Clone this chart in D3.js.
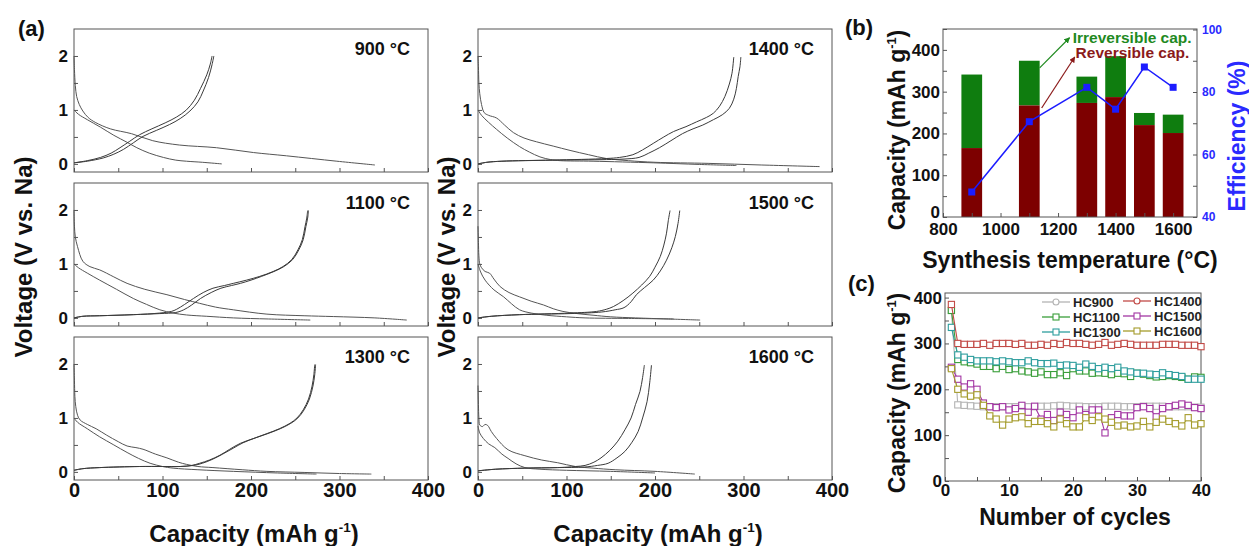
<!DOCTYPE html>
<html>
<head>
<meta charset="utf-8">
<script src="https://cdn.jsdelivr.net/npm/d3@7.9.0/dist/d3.min.js"></script>
<style>
  body { margin: 0; background: #fff; }
  svg text { font-family: Arial, "Liberation Sans", sans-serif; font-weight: bold; }
</style>
</head>
<body>
<svg id="fig" width="1249" height="546"></svg>
<script>
// ---------- data: (a) charge/discharge profiles, [capacity, voltage] ----------
const tempLabels = ["900 °C", "1100 °C", "1300 °C", "1400 °C", "1500 °C", "1600 °C"];

// each panel: [1st discharge, 1st charge, 2nd discharge, 2nd charge]
const curves900 = [
  [[0,2.0],[0.5,1.75],[1.5,1.45],[3,1.25],[6,1.1],[10,0.98],[16,0.86],[24,0.77],[41,0.65],[65,0.56],[89,0.43],[119,0.35],[161,0.3],[203,0.21],[240,0.15],[297,0.05],[340,-0.02]],
  [[0,0.02],[15,0.05],[33,0.11],[45,0.18],[56,0.27],[67,0.39],[78,0.51],[93,0.62],[108,0.73],[120,0.84],[131,0.98],[140,1.15],[146,1.35],[152,1.6],[156,1.84],[158,2.0]],
  [[0,1.0],[5,0.92],[15,0.82],[30,0.68],[45,0.53],[60,0.4],[71,0.3],[85,0.2],[101,0.12],[115,0.07],[127,0.05],[145,0.03],[167,0.0]],
  [[0,0.02],[15,0.06],[30,0.12],[42,0.2],[52,0.3],[63,0.42],[74,0.54],[88,0.65],[103,0.76],[116,0.87],[127,1.0],[136,1.18],[143,1.4],[150,1.65],[154,1.85],[156,2.0]]
];
const curves1100 = [
  [[0,2.0],[0.5,1.7],[1.5,1.5],[4,1.32],[10,1.05],[18,0.95],[29,0.89],[45,0.76],[60,0.64],[80,0.53],[105,0.43],[125,0.34],[142,0.27],[160,0.2],[180,0.15],[218,0.07],[260,0.04],[293,0.025],[340,0.0],[376,-0.04]],
  [[0,0.0],[10,0.03],[29,0.04],[67,0.06],[97,0.09],[110,0.12],[116,0.16],[125,0.25],[135,0.36],[146,0.47],[157,0.55],[170,0.6],[180,0.64],[195,0.7],[210,0.77],[225,0.86],[236,0.95],[246,1.08],[253,1.26],[258,1.45],[261,1.69],[263,1.85],[264,1.99]],
  [[0,1.0],[5,0.93],[15,0.83],[29,0.7],[48,0.53],[67,0.36],[82,0.25],[97,0.15],[112,0.09],[127,0.055],[150,0.03],[180,0.0],[220,-0.02],[267,-0.04]],
  [[0,0.0],[10,0.03],[29,0.04],[67,0.06],[97,0.08],[115,0.1],[124,0.15],[133,0.24],[143,0.36],[155,0.47],[166,0.55],[178,0.6],[188,0.64],[200,0.7],[212,0.77],[226,0.86],[237,0.95],[247,1.08],[254,1.26],[259,1.45],[262,1.69],[264,1.85],[265,1.99]]
];
const curves1300 = [
  [[0,2.0],[0.5,1.7],[1,1.4],[2,1.21],[4,1.05],[7,0.96],[15,0.88],[25,0.8],[37,0.68],[50,0.56],[60,0.48],[70,0.45],[78,0.42],[92,0.33],[105,0.26],[118,0.18],[127,0.14],[140,0.1],[157,0.08],[190,0.04],[218,0.01],[260,-0.01],[300,-0.03],[336,-0.04]],
  [[0,0.03],[10,0.06],[29,0.08],[74,0.1],[100,0.1],[120,0.1],[133,0.12],[142,0.16],[153,0.22],[165,0.31],[176,0.42],[188,0.53],[203,0.62],[218,0.71],[232,0.8],[244,0.9],[252,1.0],[259,1.15],[265,1.35],[269,1.59],[271,1.8],[272,1.99]],
  [[0,1.0],[4,0.92],[15,0.8],[29,0.65],[45,0.5],[60,0.36],[73,0.25],[86,0.16],[100,0.1],[112,0.07],[140,0.04],[180,0.01],[230,-0.02],[274,-0.04]],
  [[0,0.03],[10,0.06],[29,0.08],[74,0.1],[100,0.1],[120,0.1],[135,0.12],[145,0.16],[156,0.23],[168,0.33],[180,0.44],[191,0.54],[205,0.63],[219,0.71],[233,0.8],[245,0.9],[253,1.0],[260,1.15],[266,1.35],[270,1.59],[272,1.8],[273,1.99]]
];
const curves1400 = [
  [[0,2.0],[0.5,1.8],[1,1.5],[2,1.3],[4,1.1],[7,0.95],[12,0.9],[21,0.85],[30,0.72],[40,0.58],[52,0.48],[66,0.41],[85,0.33],[104,0.25],[125,0.17],[145,0.1],[170,0.06],[200,0.03],[260,0.01],[320,-0.02],[386,-0.05]],
  [[0,0.0],[10,0.03],[27,0.05],[84,0.07],[145,0.1],[160,0.12],[175,0.17],[186,0.26],[198,0.38],[210,0.5],[221,0.6],[235,0.69],[247,0.78],[258,0.86],[266,0.94],[273,1.07],[279,1.25],[284,1.48],[287,1.68],[289,1.98]],
  [[0,1.0],[4,0.9],[12,0.77],[21,0.64],[33,0.48],[47,0.32],[58,0.22],[70,0.13],[82,0.08],[93,0.06],[130,0.05],[198,0.02],[250,-0.01],[292,-0.03]],
  [[0,0.0],[10,0.03],[27,0.05],[84,0.07],[145,0.08],[165,0.09],[182,0.12],[193,0.2],[205,0.3],[218,0.43],[231,0.56],[243,0.65],[254,0.72],[266,0.82],[276,0.91],[284,1.03],[289,1.2],[292,1.4],[294,1.62],[296,1.8],[297,1.98]]
];
const curves1500 = [
  [[0,1.7],[0.5,1.4],[1,1.15],[2,1.0],[4,0.93],[8,0.86],[13,0.83],[18,0.72],[25,0.58],[35,0.47],[47,0.39],[60,0.31],[74,0.24],[85,0.17],[96,0.12],[112,0.08],[130,0.05],[150,0.02],[178,0.0],[215,-0.02],[251,-0.04]],
  [[0,0.0],[15,0.03],[47,0.06],[104,0.09],[134,0.12],[145,0.16],[153,0.21],[164,0.32],[175,0.46],[185,0.61],[194,0.77],[200,0.94],[206,1.14],[210,1.35],[213,1.57],[215,1.8],[217,1.99]],
  [[0,1.0],[3,0.85],[8,0.7],[18,0.52],[29,0.39],[38,0.26],[47,0.15],[60,0.09],[77,0.05],[100,0.02],[121,0.0],[170,-0.01],[221,-0.02]],
  [[0,0.0],[15,0.03],[47,0.06],[104,0.08],[140,0.11],[155,0.15],[165,0.19],[173,0.3],[179,0.43],[188,0.56],[198,0.7],[206,0.87],[213,1.07],[219,1.3],[223,1.51],[226,1.75],[228,1.99]]
];
const curves1600 = [
  [[0,1.6],[0.5,1.25],[1,1.0],[2,0.87],[5,0.84],[8,0.88],[11,0.86],[15,0.75],[21,0.62],[34,0.41],[53,0.3],[72,0.22],[90,0.17],[110,0.1],[130,0.07],[155,0.04],[200,0.01],[245,-0.04]],
  [[0,0.02],[20,0.05],[53,0.07],[90,0.08],[110,0.1],[121,0.12],[131,0.18],[139,0.26],[149,0.4],[158,0.57],[166,0.78],[173,1.0],[178,1.25],[183,1.49],[186,1.75],[188,1.98]],
  [[0,0.85],[2,0.72],[6,0.62],[12,0.52],[19,0.45],[27,0.33],[34,0.25],[43,0.15],[53,0.08],[70,0.05],[100,0.03],[150,0.01],[200,-0.02]],
  [[0,0.02],[20,0.05],[53,0.07],[90,0.08],[120,0.09],[135,0.12],[147,0.16],[157,0.26],[166,0.38],[174,0.55],[181,0.75],[186,1.0],[191,1.3],[194,1.65],[196,1.98]]
];

// ---------- data: (b) capacities and efficiency ----------
const temps = [900, 1100, 1300, 1400, 1500, 1600];
const reversibleCap = [165, 267, 273, 287, 220, 201];
const totalCap = [341, 374, 336, 385, 249, 245];
const efficiency = [48, 70.5, 81.5, 74.5, 88, 81.5];

// ---------- data: (c) cycling, cycles 1..40 ----------
const cycles = d3.range(1, 41);
const seriesNames = ["HC900", "HC1100", "HC1300", "HC1400", "HC1500", "HC1600"];
const seriesColors = ["#b4b4b4", "#3a9e3a", "#2e9e9e", "#c24b47", "#a336a3", "#a59c2c"];
const hc900 = [372,166,165,164,163,162,162,162,162,162,162,163,162,162,163,163,164,165,164,163,163,162,162,162,163,163,163,162,162,162,163,163,163,163,162,162,162,162,161,161];
const hc1100 = [372,265,260,258,255,250,250,245,250,243,245,240,238,235,238,232,232,236,230,245,240,240,235,236,235,232,235,234,228,235,233,230,227,228,230,228,226,222,227,226];
const hc1300 = [335,275,270,265,262,262,262,260,262,260,258,258,262,258,256,256,257,252,253,252,248,255,250,245,248,245,248,240,238,235,235,233,232,236,232,230,228,222,222,222];
const hc1400 = [385,300,298,298,298,300,296,300,300,300,298,300,296,296,298,296,300,298,302,300,300,298,296,298,302,296,298,300,298,296,296,296,296,298,298,298,296,296,296,293];
const hc1500 = [248,222,205,212,200,170,162,160,162,155,158,165,150,163,135,145,132,150,145,138,155,145,155,155,105,138,145,142,142,160,162,158,140,158,162,165,168,165,160,158];
const hc1600 = [245,200,190,185,188,165,142,135,122,135,138,140,125,130,130,125,118,135,125,118,118,138,132,140,135,128,120,122,118,120,130,118,128,135,130,125,120,138,122,125];
const cycleData = [hc900, hc1100, hc1300, hc1400, hc1500, hc1600];

// ---------- drawing ----------
const svg = d3.select("#fig");
const FONT = 'Arial, "Liberation Sans", sans-serif';
const frameColor = "#555";

function styleAxis(g, size, color) {
  g.attr("font-family", FONT).attr("font-size", size);
  g.select(".domain").remove();
  g.selectAll(".tick line").attr("stroke", frameColor);
  g.selectAll(".tick text").attr("fill", color || "#111").attr("font-weight", "bold");
}

function frame(x0, y0, w, h) {
  svg.append("rect").attr("x", x0).attr("y", y0).attr("width", w).attr("height", h)
    .attr("fill", "none").attr("stroke", frameColor).attr("stroke-width", 1);
}

// (a) six voltage panels
const panelW = 354, panelH = 143;
const panelsA = [
  { curves: curves900, left: 74, top: 29 },
  { curves: curves1100, left: 74, top: 183 },
  { curves: curves1300, left: 74, top: 337 },
  { curves: curves1400, left: 478, top: 29 },
  { curves: curves1500, left: 478, top: 183 },
  { curves: curves1600, left: 478, top: 337 }
];

panelsA.forEach((p, i) => {
  const x = d3.scaleLinear().domain([0, 400]).range([p.left, p.left + panelW]);
  const y = d3.scaleLinear().domain([-0.15, 2.5]).range([p.top + panelH, p.top]);
  const showX = (i % 3) === 2;

  const gx = svg.append("g").attr("transform", `translate(0,${p.top + panelH})`)
    .call(d3.axisBottom(x).tickValues(d3.range(0, 401, 50)).tickSizeInner(-4).tickSizeOuter(0).tickPadding(3)
      .tickFormat(d => (showX && d % 100 === 0) ? d : ""));
  styleAxis(gx, 20);

  const gy = svg.append("g").attr("transform", `translate(${p.left},0)`)
    .call(d3.axisLeft(y).tickValues([0, 0.5, 1, 1.5, 2]).tickSizeInner(-4).tickSizeOuter(0).tickPadding(6)
      .tickFormat(d => Number.isInteger(d) ? d : ""));
  styleAxis(gy, 17);

  frame(p.left, p.top, panelW, panelH);

  const line = d3.line().x(d => x(d[0])).y(d => y(d[1])).curve(d3.curveCatmullRom.alpha(0.5));
  svg.append("g").selectAll("path").data(p.curves).join("path")
    .attr("d", line).attr("fill", "none")
    .attr("stroke", (d, j) => j % 2 ? "#3a3a3a" : "#555")
    .attr("stroke-width", 1);

  svg.append("text").attr("x", p.left + panelW - 18).attr("y", p.top + 26)
    .attr("text-anchor", "end").attr("font-size", 18).attr("fill", "#111")
    .text(tempLabels[i]);
});

function capacityTitle(cx, cy, rotate, size) {
  const t = svg.append("text").attr("font-size", size).attr("fill", "#111").attr("text-anchor", "middle")
    .attr("transform", rotate ? `translate(${cx},${cy}) rotate(-90)` : `translate(${cx},${cy})`);
  t.append("tspan").text("Capacity (mAh g");
  t.append("tspan").attr("font-size", size * 0.56).attr("dy", -size * 0.4).text("-1");
  t.append("tspan").attr("dy", size * 0.4).text(")");
}

function voltageTitle(cx, cy) {
  svg.append("text").attr("font-size", 24).attr("fill", "#111").attr("text-anchor", "middle")
    .attr("transform", `translate(${cx},${cy}) rotate(-90)`)
    .text("Voltage (V vs. Na)");
}

voltageTitle(32, 257);
voltageTitle(455, 257);
capacityTitle(254, 542, false, 24);
capacityTitle(658, 542, false, 24);

svg.append("text").attr("x", 18).attr("y", 36).attr("font-size", 22).attr("fill", "#111").text("(a)");

// (b) capacity bars + efficiency
const bL = 943, bT = 29, bW = 254, bH = 188;
const xb = d3.scaleLinear().domain([800, 1683]).range([bL, bL + bW]);
const yb = d3.scaleLinear().domain([0, 450]).range([bT + bH, bT]);
const ye = d3.scaleLinear().domain([40, 100]).range([bT + bH, bT + 0.5]);
const barHalf = 36;

svg.append("g").selectAll("rect").data(temps).join("rect")
  .attr("x", d => xb(d - barHalf)).attr("width", d => xb(d + barHalf) - xb(d - barHalf))
  .attr("y", (d, i) => yb(totalCap[i])).attr("height", (d, i) => yb(reversibleCap[i]) - yb(totalCap[i]))
  .attr("fill", "#0f7d0f");
svg.append("g").selectAll("rect").data(temps).join("rect")
  .attr("x", d => xb(d - barHalf)).attr("width", d => xb(d + barHalf) - xb(d - barHalf))
  .attr("y", (d, i) => yb(reversibleCap[i])).attr("height", (d, i) => yb(0) - yb(reversibleCap[i]))
  .attr("fill", "#7d0000");

const gbx = svg.append("g").attr("transform", `translate(0,${bT + bH})`)
  .call(d3.axisBottom(xb).tickValues(d3.range(800, 1601, 100)).tickSizeInner(-4).tickSizeOuter(0).tickPadding(6)
    .tickFormat(d => d % 200 === 0 ? d : ""));
styleAxis(gbx, 17);
const gby = svg.append("g").attr("transform", `translate(${bL},0)`)
  .call(d3.axisLeft(yb).tickValues(d3.range(0, 451, 50)).tickSizeInner(-4).tickSizeOuter(0).tickPadding(3)
    .tickFormat(d => d % 100 === 0 ? d : ""));
styleAxis(gby, 17);
gby.selectAll(".tick text").filter(d => d === 0).attr("dy", "0em");
const gbe = svg.append("g").attr("transform", `translate(${bL + bW},0)`)
  .call(d3.axisRight(ye).tickValues(d3.range(40, 101, 10)).tickSizeInner(-4).tickSizeOuter(0).tickPadding(5)
    .tickFormat(d => d % 20 === 0 ? d : ""));
styleAxis(gbe, 12, "#2a2aff");
frame(bL, bT, bW, bH);

const effLine = d3.line().x((d, i) => xb(temps[i])).y(d => ye(d));
svg.append("path").datum(efficiency).attr("d", effLine)
  .attr("fill", "none").attr("stroke", "#1c1cff").attr("stroke-width", 1.5);
svg.append("g").selectAll("rect").data(efficiency).join("rect")
  .attr("x", (d, i) => xb(temps[i]) - 3.5).attr("y", d => ye(d) - 3.5)
  .attr("width", 7).attr("height", 7).attr("fill", "#1c1cff");

// annotations
const defs = svg.append("defs");
[["arrG", "#1f8a1f"], ["arrR", "#8b1a1a"]].forEach(([id, c]) => {
  defs.append("marker").attr("id", id).attr("viewBox", "0 0 10 10").attr("refX", 9).attr("refY", 5)
    .attr("markerWidth", 5).attr("markerHeight", 5).attr("orient", "auto")
    .append("path").attr("d", "M0,0 L10,5 L0,10 z").attr("fill", c);
});
svg.append("line").attr("x1", xb(1136)).attr("y1", yb(357)).attr("x2", xb(1240)).attr("y2", yb(429))
  .attr("stroke", "#1f8a1f").attr("stroke-width", 1.2).attr("marker-end", "url(#arrG)");
svg.append("line").attr("x1", xb(1143)).attr("y1", yb(261)).attr("x2", xb(1258)).attr("y2", yb(383))
  .attr("stroke", "#8b1a1a").attr("stroke-width", 1.2).attr("marker-end", "url(#arrR)");
svg.append("text").attr("x", xb(1251)).attr("y", yb(417)).attr("font-size", 15.5).attr("fill", "#1f8a1f").text("Irreversible cap.");
svg.append("text").attr("x", xb(1261)).attr("y", yb(381)).attr("font-size", 15.5).attr("fill", "#8b1a1a").text("Reversible cap.");

capacityTitle(905, 130, true, 23);
svg.append("text").attr("font-size", 23).attr("fill", "#2a2aff").attr("text-anchor", "middle")
  .attr("transform", "translate(1245,136) rotate(-90)").text("Efficiency (%)");
svg.append("text").attr("x", 1070).attr("y", 268).attr("font-size", 23).attr("fill", "#111")
  .attr("text-anchor", "middle").text("Synthesis temperature (°C)");
svg.append("text").attr("x", 845).attr("y", 35).attr("font-size", 22).attr("fill", "#111").text("(b)");

// (c) cycling
const cL = 945, cT = 293, cW = 256, cH = 188;
const xc = d3.scaleLinear().domain([0, 40]).range([cL, cL + cW]);
const yc = d3.scaleLinear().domain([0, 410]).range([cT + cH, cT]);

const gcx = svg.append("g").attr("transform", `translate(0,${cT + cH})`)
  .call(d3.axisBottom(xc).tickValues(d3.range(0, 41, 5)).tickSizeInner(-4).tickSizeOuter(0).tickPadding(3)
    .tickFormat(d => d % 10 === 0 ? d : ""));
styleAxis(gcx, 17);
const gcy = svg.append("g").attr("transform", `translate(${cL},0)`)
  .call(d3.axisLeft(yc).tickValues(d3.range(0, 401, 50)).tickSizeInner(-4).tickSizeOuter(0).tickPadding(3)
    .tickFormat(d => d % 100 === 0 ? d : ""));
styleAxis(gcy, 17);
frame(cL, cT, cW, cH);

const cycLine = d3.line().x((d, i) => xc(cycles[i])).y(d => yc(d));
cycleData.forEach((vals, s) => {
  const g = svg.append("g");
  g.append("path").datum(vals).attr("d", cycLine).attr("fill", "none")
    .attr("stroke", seriesColors[s]).attr("stroke-width", 1.1);
  g.selectAll("rect").data(vals).join("rect")
    .attr("x", (d, i) => xc(cycles[i]) - 3.1).attr("y", d => yc(d) - 3.1)
    .attr("width", 6.2).attr("height", 6.2)
    .attr("fill", "#fff").attr("stroke", seriesColors[s]).attr("stroke-width", 1.1);
});

// legend
const legendPos = [[1042, 302], [1042, 317], [1042, 332], [1123, 301], [1123, 316], [1123, 331]];
seriesNames.forEach((name, s) => {
  const [lx, ly] = legendPos[s];
  const g = svg.append("g");
  g.append("line").attr("x1", lx).attr("x2", lx + 28).attr("y1", ly).attr("y2", ly)
    .attr("stroke", seriesColors[s]).attr("stroke-width", 1.3);
  if (s === 0 || s === 3) {
    g.append("circle").attr("cx", lx + 14).attr("cy", ly).attr("r", 3)
      .attr("fill", "#fff").attr("stroke", seriesColors[s]).attr("stroke-width", 1.1);
  } else {
    g.append("rect").attr("x", lx + 11).attr("y", ly - 3).attr("width", 6).attr("height", 6)
      .attr("fill", "#fff").attr("stroke", seriesColors[s]).attr("stroke-width", 1.1);
  }
  g.append("text").attr("x", lx + 31).attr("y", ly + 5).attr("font-size", 13).attr("fill", "#222").text(name);
});

capacityTitle(905, 393, true, 23);
svg.append("text").attr("x", 1075).attr("y", 525).attr("font-size", 23).attr("fill", "#111")
  .attr("text-anchor", "middle").text("Number of cycles");
svg.append("text").attr("x", 848).attr("y", 291).attr("font-size", 22).attr("fill", "#111").text("(c)");
</script>
</body>
</html>
